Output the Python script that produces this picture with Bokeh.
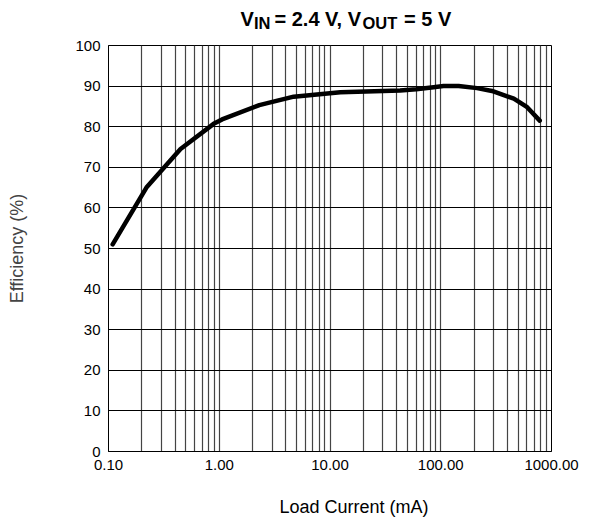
from bokeh.plotting import figure
from bokeh.models import FixedTicker, PrintfTickFormatter, Range1d
from bokeh.layouts import column
from bokeh.core.properties import value
from bokeh.embed import file_html
from bokeh.resources import INLINE

# Data
load_current_ma = [0.109, 0.22, 0.447, 0.89, 1.06, 2.3, 4.7, 12.4, 43, 60, 86, 106, 145, 213, 290, 457, 603, 783]
efficiency_pct = [51.0, 65.0, 74.5, 80.7, 81.8, 85.3, 87.4, 88.5, 88.9, 89.2, 89.7, 90.0, 90.0, 89.5, 88.8, 86.9, 84.8, 81.5]

x_major_ticks = [0.1, 1, 10, 100, 1000]
y_ticks = [0, 10, 20, 30, 40, 50, 60, 70, 80, 90, 100]
x_label = "Load Current (mA)"
y_label = "Efficiency (%)"
title_main = ["V", "= 2.4 V, V", "= 5 V"]
title_sub = ["IN", "OUT"]

FONT = "Liberation Sans"
W = 600
H_TITLE = 35
H_MAIN = 446
H_XLAB = 39


def text_strip(height):
    f = figure(width=W, height=height, output_backend="svg", toolbar_location=None,
               x_range=Range1d(0, W), y_range=Range1d(height, 0),
               x_axis_location=None, y_axis_location=None,
               min_border=0, min_border_left=0, min_border_right=0,
               min_border_top=0, min_border_bottom=0,
               outline_line_color=None, frame_align=False)
    f.grid.visible = False
    return f


# ---- title strip (text with subscripts) ----
tf = text_strip(H_TITLE)
tf.text(x=[240, 274, 403.5], y=[18.5, 18.5, 18.5], text=title_main,
        text_font_size=value("20px"), text_font=value(FONT), text_font_style="bold",
        text_color="black", text_align="left", text_baseline="alphabetic")
tf.text(x=[253.5, 362], y=[22.0, 22.0], text=title_sub,
        text_font_size=value("16.5px"), text_font=value(FONT), text_font_style="bold",
        text_color="black", text_align="left", text_baseline="alphabetic")

# ---- main chart ----
p = figure(width=W, height=H_MAIN, x_axis_type="log", output_backend="svg",
           toolbar_location=None, frame_align=False,
           x_range=Range1d(0.1, 1000), y_range=Range1d(0, 100),
           min_border_left=108, min_border_right=49,
           min_border_top=10, min_border_bottom=30)

grid_ticks = [m * d for d in x_major_ticks[:-1] for m in range(1, 10)] + [x_major_ticks[-1]]
p.xgrid.ticker = FixedTicker(ticks=grid_ticks)
p.xgrid.grid_line_color = "#444444"
p.xgrid.grid_line_width = 1.2
p.ygrid.ticker = FixedTicker(ticks=y_ticks)
p.ygrid.grid_line_color = "black"
p.ygrid.grid_line_width = 1

p.outline_line_color = "black"
p.outline_line_width = 1

p.xaxis.ticker = FixedTicker(ticks=x_major_ticks)
p.xaxis.formatter = PrintfTickFormatter(format="%.2f")
p.yaxis.ticker = FixedTicker(ticks=y_ticks)

for ax in (p.xaxis[0], p.yaxis[0]):
    ax.axis_line_color = "black"
    ax.major_tick_line_color = None
    ax.minor_tick_line_color = None
    ax.major_tick_out = 0
    ax.major_tick_in = 0
    ax.major_label_text_font = FONT
    ax.major_label_text_font_size = "15px"
    ax.major_label_text_color = "black"
    ax.major_label_standoff = 8

p.yaxis.axis_label = y_label
p.yaxis.axis_label_text_font = FONT
p.yaxis.axis_label_text_font_size = "18px"
p.yaxis.axis_label_text_font_style = "normal"
p.yaxis.axis_label_standoff = 45

p.line(load_current_ma, efficiency_pct, line_color="black", line_width=4.5,
       line_join="round", line_cap="round")

# ---- x-axis label strip ----
xf = text_strip(H_XLAB)
xf.text(x=[353.5], y=[25], text=[x_label],
        text_font_size=value("18px"), text_font=value(FONT),
        text_color="black", text_align="center", text_baseline="alphabetic")

layout = column(tf, p, xf, spacing=0)
open("out.html", "w").write(file_html(layout, INLINE))
